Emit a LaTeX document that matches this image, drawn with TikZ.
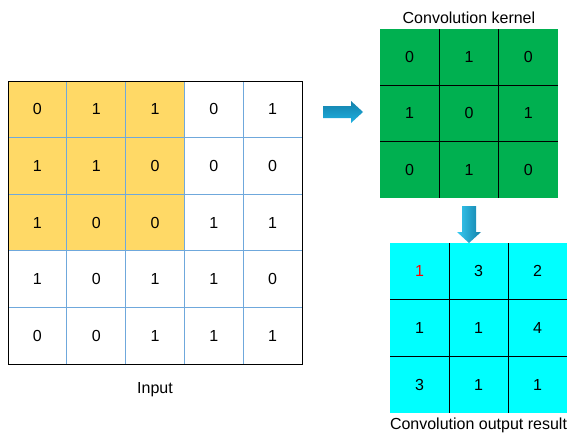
\documentclass[tikz,border=0pt]{standalone}
\usepackage{fontspec}
\setmainfont{Liberation Sans}
\usepackage{xcolor}
\definecolor{cellorange}{HTML}{FFD966}
\definecolor{kergreen}{HTML}{00B050}
\definecolor{outcyan}{HTML}{00FFFF}
\definecolor{gridblue}{HTML}{6FA8DC}
\definecolor{arrowlight}{HTML}{36CBF2}
\definecolor{arrowmid}{HTML}{1FB0E0}
\definecolor{arrowdark}{HTML}{1480AA}
\usetikzlibrary{positioning}
\tikzstyle{every picture}+=[>=stealth]

\begin{document}
\begin{tikzpicture}[x=1pt, y=-1pt, font=\fontsize{16}{19}\selectfont]

	\useasboundingbox (0,0) rectangle (569,434);

	\begin{scope}[
			incell/.style={minimum width=58.8pt, minimum height=56.6pt, inner sep=0pt, outer sep=0pt, draw=gridblue, line width=0.8pt},
			kcell/.style={minimum width=59.3pt, minimum height=56.3pt, inner sep=0pt, outer sep=0pt, fill=kergreen},
			ocell/.style={minimum width=59pt, minimum height=56.7pt, inner sep=0pt, outer sep=0pt, fill=outcyan},
			sep/.style={black, thick}
			]

		% input matrix, receptive field in orange
		\foreach \r/\vals in {1/{0,1,1,0,1}, 2/{1,1,0,0,0}, 3/{1,0,0,1,1}, 4/{1,0,1,1,0}, 5/{0,0,1,1,1}} {
			\foreach \v [count=\c] in \vals {
				\pgfmathtruncatemacro\hl{and(\r<4,\c<4)}
				\ifnum\hl=1 \def\cellcol{cellorange}\else\def\cellcol{white}\fi
				\node[incell, fill=\cellcol] (in-\r-\c) at (8+58.8*\c-29.4, 81+56.6*\r-28.3) {\v};
			}
		}
		\draw[black] (in-1-1.north west) rectangle (in-5-5.south east);
		\node (lblin) at (155,390) {Input};

		% kernel
		\foreach \r/\vals in {1/{0,1,0}, 2/{1,0,1}, 3/{0,1,0}} {
			\foreach \v [count=\c] in \vals {
				\node[kcell] (ker-\r-\c) at (380+59.3*\c-29.65, 29+56.3*\r-28.15) {\v};
			}
		}
		\foreach \i in {1,2} {
			\draw[sep] (ker-1-\i.north east) -- (ker-3-\i.south east);
			\draw[sep] (ker-\i-1.south west) -- (ker-\i-3.south east);
		}
		\node[above=3pt of ker-1-2, inner sep=2pt] (lblker) {Convolution kernel};

		% output feature map
		\foreach \r/\vals in {1/{\textcolor{red}{1},3,2}, 2/{1,1,4}, 3/{3,1,1}} {
			\foreach \v [count=\c] in \vals {
				\node[ocell] (out-\r-\c) at (390+59*\c-29.5, 243+56.7*\r-28.35) {\v};
			}
		}
		\foreach \i in {1,2} {
			\draw[sep] (out-1-\i.north east) -- (out-3-\i.south east);
			\draw[sep] (out-\i-1.south west) -- (out-\i-3.south east);
		}
		\node[below=3pt of out-3-2, inner sep=2pt] (lblout) {Convolution output result};

		% block arrows
		\shade[top color=arrowdark, middle color=arrowlight, bottom color=arrowmid]
			(323,106) -- (351,106) -- (351,101) -- (363,112) -- (351,123) -- (351,118) -- (323,118) -- cycle;
		\shade[left color=arrowlight, right color=arrowdark]
			(462,206) -- (476,206) -- (476,232) -- (481,232) -- (469,243) -- (457,232) -- (462,232) -- cycle;

	\end{scope}

\end{tikzpicture}
\end{document}
